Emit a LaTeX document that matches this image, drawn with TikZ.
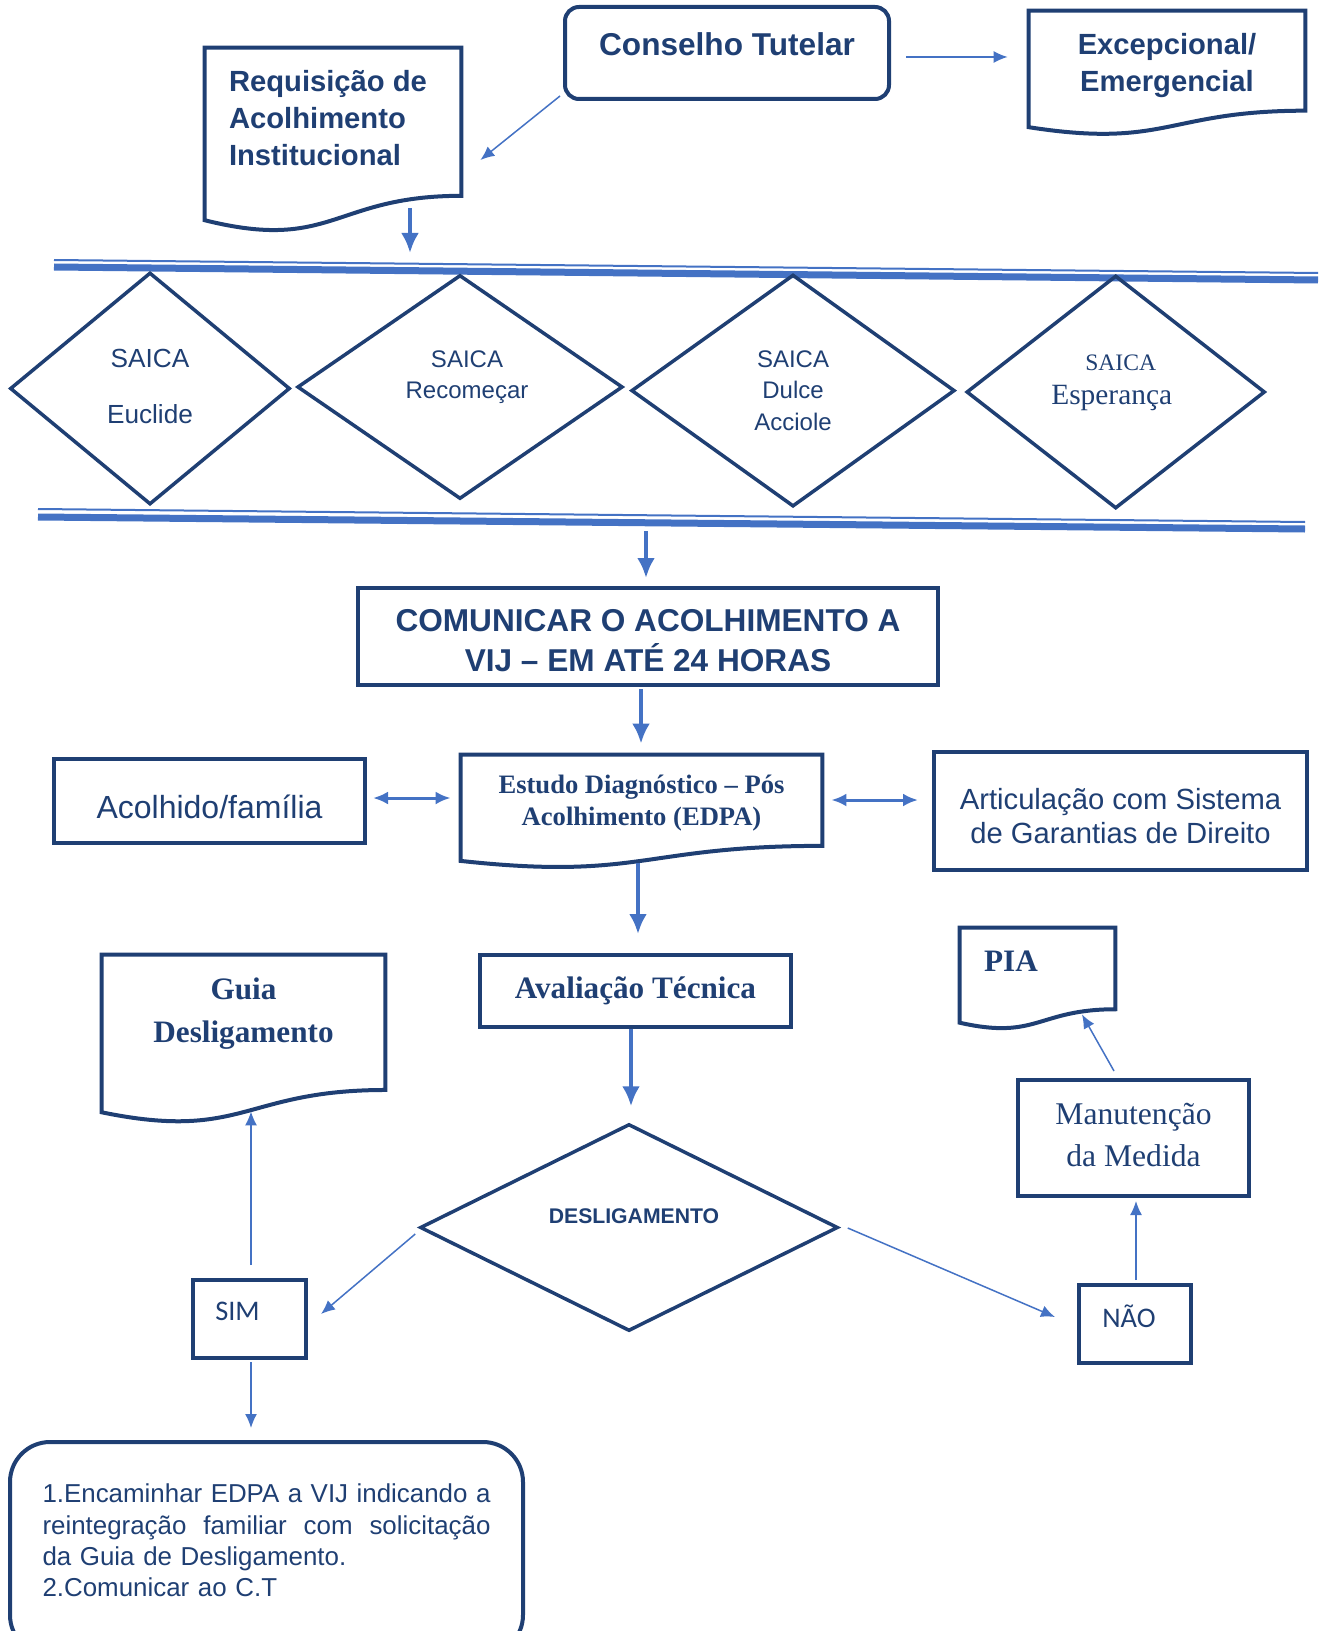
\documentclass[tikz,border=0pt]{standalone}
\usepackage{fontspec}
\setmainfont{Liberation Serif}
\setsansfont{Liberation Sans}
\newfontfamily\calibfont{Carlito}
\usetikzlibrary{arrows.meta,positioning,calc,shapes.geometric}
\definecolor{ctnavy}{HTML}{1F3F73}
\definecolor{ctblue}{HTML}{4472C4}
\newcommand{\ctbig}{\sffamily\bfseries\fontsize{15.8pt}{20.3pt}\selectfont}
\newcommand{\ctmid}{\sffamily\bfseries\fontsize{14.6pt}{18.7pt}\selectfont}
\newcommand{\ctsaica}{\sffamily\fontsize{12pt}{15.8pt}\selectfont}
\newcommand{\ctsans}{\sffamily\fontsize{14.6pt}{16.6pt}\selectfont}
\newcommand{\ctserifb}{\rmfamily\bfseries\fontsize{15.6pt}{21.3pt}\selectfont}
\newcommand{\ctserif}{\rmfamily\fontsize{15.8pt}{20.8pt}\selectfont}
\newcommand{\ctcal}{\calibfont\fontsize{14.2pt}{17pt}\selectfont}
\tikzset{
  ctbox/.style={draw=ctnavy, line width=2pt, rectangle, inner sep=0pt, text=ctnavy, align=center},
  ctround/.style={ctbox, rounded corners=7pt},
  ctdoc/.style={rectangle, inner sep=0pt, text=ctnavy, align=center},
  ctdiamond/.style={draw=ctnavy, line width=1.75pt, diamond, inner sep=0pt},
  cttext/.style={text=ctnavy, align=center, inner sep=0pt},
  ctarrow/.style={-{Latex[length=10pt,width=9pt]}, draw=ctblue, line width=2pt},
  ctthin/.style={-{Latex[length=7pt,width=6pt]}, draw=ctblue, line width=0.75pt},
  ctdouble/.style={{Latex[length=7.5pt,width=6.5pt]}-{Latex[length=7.5pt,width=6.5pt]}, draw=ctblue, line width=1.5pt},
  ctband/.style={draw=ctblue, line width=3.5pt},
  ctbandthin/.style={draw=ctblue, line width=1pt},
}
\newcommand{\docoutline}[1]{%
  \draw[draw=ctnavy, line width=2pt] let \p1=(#1.south west), \p2=(#1.north east) in
    (\x1,{\y2-0.934*(\y2-\y1)}) -- (\x1,\y2) -- (\x2,\y2) -- (\x2,{\y2-0.802*(\y2-\y1)})
    .. controls ({0.5*(\x1+\x2)},{\y2-0.802*(\y2-\y1)}) and ({0.5*(\x1+\x2)},{\y2-1.1075*(\y2-\y1)}) ..
    (\x1,{\y2-0.934*(\y2-\y1)}) -- cycle;}

\begin{document}
\begin{tikzpicture}[x=0.5pt, y=-0.5pt]
  \useasboundingbox (0,0) rectangle (1318,1631);

  \draw[ctbandthin] (54,260) -- (1318,273);
  \draw[ctband] (54,267) -- (1318,280);
  \draw[ctbandthin] (38,509) -- (1305,522);
  \draw[ctband] (38,517) -- (1305,529);
  \coordinate (bandin) at (410,253);
  \coordinate (bandout) at (646,531);

  \node[ctround, minimum width=162pt, minimum height=46pt,
    label={[cttext, font=\ctbig, yshift=4.5pt]center:Conselho Tutelar}] (con) at (727,53) {};
  \node[ctdoc, minimum width=138pt, minimum height=62pt,
    label={[cttext, font=\ctmid, yshift=3.75pt]center:{Excepcional/\\Emergencial}}] (exc) at (1167,73) {};
  \node[ctdoc, minimum width=128pt, minimum height=92pt,
    label={[cttext, align=left, font=\ctmid, xshift=-2.5pt, yshift=11pt]center:{Requisição de\\Acolhimento\\Institucional}}] (req) at (333,140) {};
  \docoutline{exc}
  \docoutline{req}

  \node[ctdiamond, minimum width=140pt, minimum height=116pt,
    label={[cttext, font=\sffamily\fontsize{13.1pt}{28pt}\selectfont, yshift=1pt]center:{SAICA\\Euclide}}] (euc) at (150,388.5) {};
  \node[ctdiamond, minimum width=162.75pt, minimum height=112pt,
    label={[cttext, font=\ctsaica, xshift=3.5pt, yshift=5pt]center:{SAICA\\Recomeçar}}] (rec) at (460,387) {};
  \node[ctdiamond, minimum width=161.75pt, minimum height=116pt,
    label={[cttext, font=\ctsaica]center:{SAICA\\Dulce\\Acciole}}] (dul) at (793,390.6) {};
  \node[ctdiamond, minimum width=149.3pt, minimum height=116.5pt,
    label={[cttext, font=\rmfamily\fontsize{14.7pt}{17pt}\selectfont, xshift=-2pt, yshift=4.75pt]center:{{\fontsize{11.8pt}{17pt}\selectfont\hspace*{9pt}SAICA}\\Esperança}}] (esp) at (1115.7,392) {};

  \node[ctbox, minimum width=290pt, minimum height=48.5pt,
    label={[cttext, font=\ctbig, yshift=-2pt]center:{COMUNICAR O ACOLHIMENTO A\\VIJ – EM ATÉ 24 HORAS}}] (com) at (648,636.5) {};

  \node[ctdoc, minimum width=180.5pt, minimum height=56.5pt,
    label={[cttext, font=\rmfamily\bfseries\fontsize{13.3pt}{15.6pt}\selectfont, yshift=4.25pt]center:{Estudo Diagnóstico – Pós\\Acolhimento (EDPA)}}] (edpa) at (641.5,811.5) {};
  \docoutline{edpa}
  \node[ctbox, minimum width=155.5pt, minimum height=42pt,
    label={[cttext, font=\sffamily\fontsize{16pt}{19pt}\selectfont, yshift=-3pt]center:Acolhido/família}] (aco) at (209.5,801) {};
  \node[ctbox, minimum width=186.5pt, minimum height=59pt,
    label={[cttext, font=\ctsans, yshift=-2.5pt]center:{Articulação com Sistema\\de Garantias de Direito}}] (art) at (1120.5,811) {};

  \node[ctbox, minimum width=155.5pt, minimum height=36pt, font=\ctserifb] (ava) at (635.5,991) {Avaliação Técnica};
  \node[ctdoc, minimum width=141.5pt, minimum height=84pt,
    label={[cttext, font=\ctserifb, yshift=12.75pt]center:{Guia\\Desligamento}}] (guia) at (243.5,1039) {};
  \docoutline{guia}
  \node[ctdoc, minimum width=77.5pt, minimum height=50.5pt,
    label={[cttext, font=\ctserifb, xshift=-13.25pt, yshift=8.75pt]center:PIA}] (pia) at (1037.5,978.5) {};
  \docoutline{pia}
  \node[ctbox, minimum width=115.5pt, minimum height=58pt,
    label={[cttext, font=\ctserif, yshift=1.5pt]center:{Manutenção\\da Medida}}] (man) at (1133.5,1138) {};

  \node[ctdiamond, minimum width=209pt, minimum height=103.5pt,
    label={[cttext, font=\sffamily\bfseries\fontsize{10.6pt}{13pt}\selectfont, xshift=2.5pt, yshift=5.5pt]center:DESLIGAMENTO}] (desl) at (629,1227.5) {};
  \node[ctbox, minimum width=56.5pt, minimum height=39pt,
    label={[cttext, font=\ctcal, xshift=-6pt, yshift=4pt]center:SIM}] (sim) at (249.5,1319) {};
  \node[ctbox, minimum width=56pt, minimum height=39pt,
    label={[cttext, font=\ctcal, xshift=-3pt, yshift=4pt]center:NÃO}] (nao) at (1135,1324) {};

  \node[ctbox, rounded corners=20pt, minimum width=256.5pt, minimum height=106.5pt,
    label={[cttext, align=left, text width=224pt, font=\sffamily\fontsize{12.95pt}{15.6pt}\selectfont, yshift=4pt]center:{%
      \makebox[224pt][l]{1.Encaminhar\hfill EDPA\hfill a\hfill VIJ\hfill indicando\hfill a}\\
      \makebox[224pt][l]{reintegração\hfill familiar\hfill com\hfill solicitação}\\
      da Guia de Desligamento.\\
      2.Comunicar ao C.T}}] (fim) at (266.5,1548.5) {};

  \draw[ctthin] ([shift={(-3,-5)}]con.south west) -- ([shift={(19,20)}]req.east);
  \draw[ctthin] ([shift={(15,4)}]con.east) -- ([shift={(-21,-16)}]exc.west);
  \draw[ctarrow] ([shift={(77,-24)}]req.south) -- (bandin);
  \draw[ctarrow] (bandout) -- ([shift={(-2,-8)}]com.north);
  \draw[ctarrow] ([shift={(-7,2)}]com.south) -- ([shift={(-0.5,-11)}]edpa.north);
  \draw[ctdouble] ([shift={(6,-3)}]aco.east) -- ([shift={(-10,-13.5)}]edpa.west);
  \draw[ctdouble] ([shift={(9,-11.5)}]edpa.east) -- ([shift={(-14,-11)}]art.west);
  \draw[ctarrow] ([shift={(-3.5,-5)}]edpa.south) -- ([shift={(2.5,-19)}]ava.north);
  \draw[ctarrow] ([shift={(-4.5,0)}]ava.south) -- ([shift={(2,-16)}]desl.north);
  \draw[ctthin] ([shift={(-3,6.5)}]desl.west) -- ([shift={(13,-5)}]sim.east);
  \draw[ctthin] ([shift={(1.5,-13)}]sim.north) -- ([shift={(7.5,-12)}]guia.south);
  \draw[ctthin] ([shift={(1.5,2)}]sim.south) -- ([shift={(-15.5,-12)}]fim.north);
  \draw[ctthin] ([shift={(8,0.5)}]desl.east) -- ([shift={(-22,-7)}]nao.west);
  \draw[ctthin] ([shift={(1,-3)}]nao.north) -- ([shift={(2.5,3)}]man.south);
  \draw[ctthin] ([shift={(-19.5,-7)}]man.north) -- ([shift={(44.5,-15)}]pia.south);
\end{tikzpicture}
\end{document}
